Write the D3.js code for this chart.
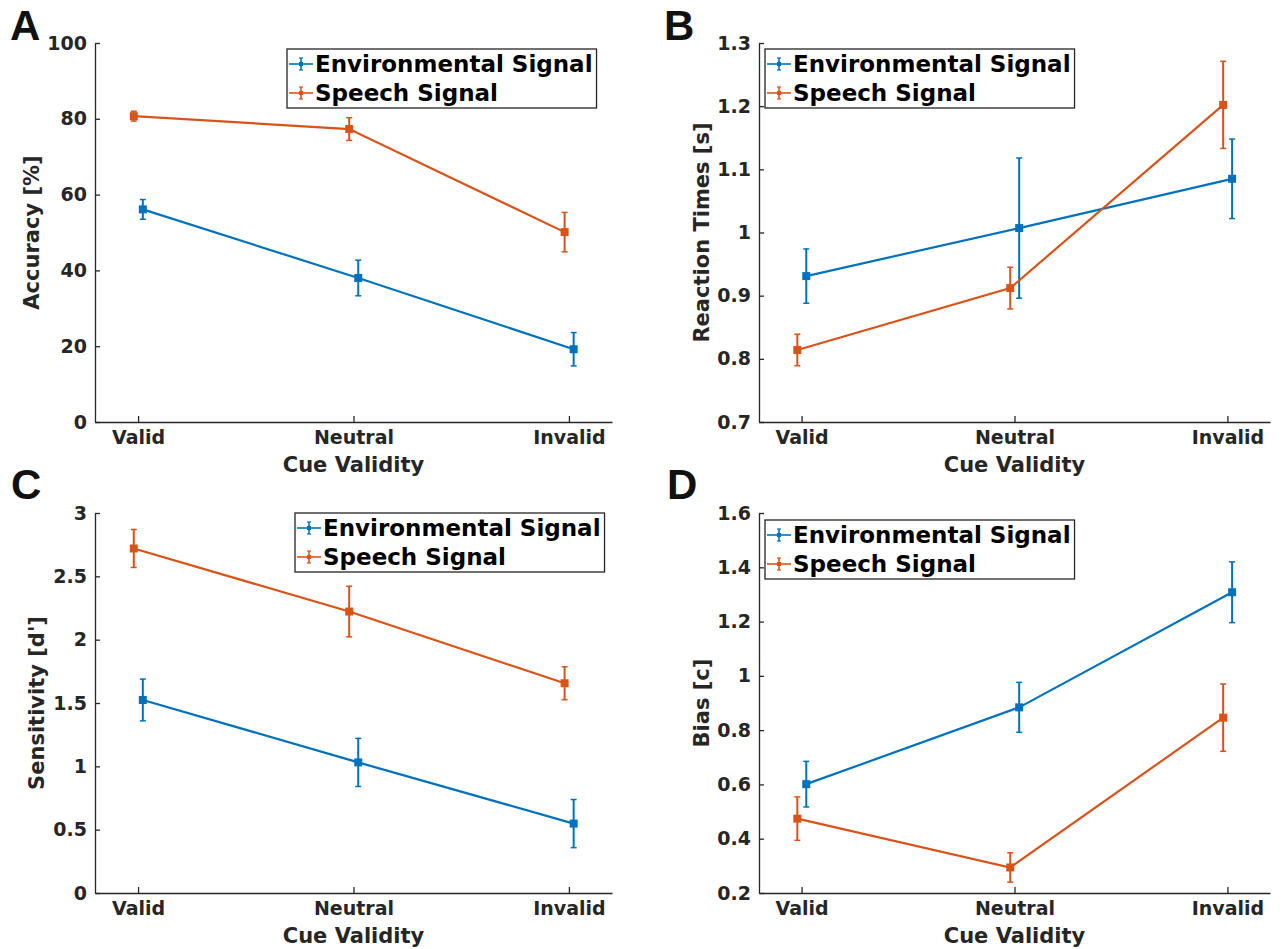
<!DOCTYPE html>
<html>
<head>
<meta charset="utf-8">
<script src="https://cdn.jsdelivr.net/npm/d3@7"></script>
<style>
  body { margin: 0; background: #fff; }
  svg text { font-family: "DejaVu Sans", sans-serif; font-weight: bold; }
</style>
</head>
<body>
<div id="chart"></div>
<script>
// Categories and series
const categories = ["Valid", "Neutral", "Invalid"];
const seriesNames = ["Environmental Signal", "Speech Signal"];
const seriesColors = ["#0072BD", "#D95319"];

// A - accuracy
const accEnv = [56.1, 38.0, 19.2];
const accEnvErr = [2.6, 4.7, 4.4];
const accSpeech = [80.7, 77.3, 50.1];
const accSpeechErr = [1.3, 3.0, 5.2];
const accTicks = [0, 20, 40, 60, 80, 100];
const accTickLabels = ["0", "20", "40", "60", "80", "100"];

// B - reaction times
const rtEnv = [0.931, 1.007, 1.085];
const rtEnvErr = [0.043, 0.111, 0.063];
const rtSpeech = [0.814, 0.912, 1.202];
const rtSpeechErr = [0.025, 0.033, 0.069];
const rtTicks = [0.7, 0.8, 0.9, 1.0, 1.1, 1.2, 1.3];
const rtTickLabels = ["0.7", "0.8", "0.9", "1", "1.1", "1.2", "1.3"];

// C - sensitivity
const dEnv = [1.524, 1.031, 0.548];
const dEnvErr = [0.165, 0.19, 0.19];
const dSpeech = [2.72, 2.222, 1.656];
const dSpeechErr = [0.15, 0.2, 0.13];
const dTicks = [0, 0.5, 1, 1.5, 2, 2.5, 3];
const dTickLabels = ["0", "0.5", "1", "1.5", "2", "2.5", "3"];

// D - bias
const cEnv = [0.601, 0.884, 1.308];
const cEnvErr = [0.084, 0.092, 0.112];
const cSpeech = [0.474, 0.294, 0.846];
const cSpeechErr = [0.08, 0.054, 0.124];
const cTicks = [0.2, 0.4, 0.6, 0.8, 1.0, 1.2, 1.4, 1.6];
const cTickLabels = ["0.2", "0.4", "0.6", "0.8", "1", "1.2", "1.4", "1.6"];

const width = 1288;
const height = 949;
const axisColor = "#262626";

const svg = d3.select("#chart")
    .append("svg")
    .attr("width", width)
    .attr("height", height);

// panel layouts
const panels = [
    { letter: "A", lx: 10, ly: 40, left: 95, right: 612, top: 43, bottom: 422,
      ylabel: "Accuracy [%]", ylabelX: 39, ticks: accTicks, tickLabels: accTickLabels,
      env: accEnv, envErr: accEnvErr, speech: accSpeech, speechErr: accSpeechErr,
      legend: { x: 287, y: 49 } },
    { letter: "B", lx: 664, ly: 40, left: 759, right: 1270, top: 43, bottom: 422,
      ylabel: "Reaction Times [s]", ylabelX: 709, ticks: rtTicks, tickLabels: rtTickLabels,
      env: rtEnv, envErr: rtEnvErr, speech: rtSpeech, speechErr: rtSpeechErr,
      legend: { x: 765, y: 49 } },
    { letter: "C", lx: 11, ly: 499, left: 95, right: 612, top: 513, bottom: 893,
      ylabel: "Sensitivity [d']", ylabelX: 44, ticks: dTicks, tickLabels: dTickLabels,
      env: dEnv, envErr: dEnvErr, speech: dSpeech, speechErr: dSpeechErr,
      legend: { x: 295, y: 513 } },
    { letter: "D", lx: 667, ly: 499, left: 759, right: 1270, top: 513, bottom: 893,
      ylabel: "Bias [c]", ylabelX: 709, ticks: cTicks, tickLabels: cTickLabels,
      env: cEnv, envErr: cEnvErr, speech: cSpeech, speechErr: cSpeechErr,
      legend: { x: 765, y: 520 } }
];

function drawPanel(p) {
    const g = svg.append("g");

    const xScale = d3.scaleLinear()
        .domain([0.8, 3.2])
        .range([p.left, p.right]);

    const yScale = d3.scaleLinear()
        .domain([p.ticks[0], p.ticks[p.ticks.length - 1]])
        .range([p.bottom, p.top]);

    // axes, MATLAB style ticks pointing inward
    const xAxis = d3.axisBottom(xScale)
        .tickValues([1, 2, 3])
        .tickFormat((d, i) => categories[i])
        .tickSizeInner(-6)
        .tickSizeOuter(0)
        .tickPadding(9);

    const yAxis = d3.axisLeft(yScale)
        .tickValues(p.ticks)
        .tickFormat((d, i) => p.tickLabels[i])
        .tickSizeInner(-5)
        .tickSizeOuter(0)
        .tickPadding(8);

    const gx = g.append("g")
        .attr("transform", `translate(0, ${p.bottom})`)
        .call(xAxis);

    const gy = g.append("g")
        .attr("transform", `translate(${p.left}, 0)`)
        .call(yAxis);

    [gx, gy].forEach(a => {
        a.selectAll("path, line").attr("stroke", axisColor).attr("stroke-width", 1.3);
        a.selectAll("text")
            .attr("fill", axisColor)
            .style("font-size", "19px")
            .style("font-family", "'DejaVu Sans', sans-serif")
            .style("font-weight", "bold");
    });

    // axis labels
    g.append("text")
        .attr("text-anchor", "middle")
        .attr("x", (p.left + p.right) / 2)
        .attr("y", p.bottom + 50)
        .attr("fill", axisColor)
        .style("font-size", "21px")
        .text("Cue Validity");

    g.append("text")
        .attr("text-anchor", "middle")
        .attr("transform", `translate(${p.ylabelX}, ${(p.top + p.bottom) / 2}) rotate(-90)`)
        .attr("fill", axisColor)
        .style("font-size", "21px")
        .text(p.ylabel);

    // panel letter
    g.append("text")
        .attr("x", p.lx)
        .attr("y", p.ly)
        .attr("fill", "#111")
        .style("font-family", "'Liberation Sans', Arial, sans-serif")
        .style("font-size", "42px")
        .text(p.letter);

    // series: env shifted right, speech shifted left
    const series = [
        { vals: p.env, errs: p.envErr, color: seriesColors[0], shift: 0.022 },
        { vals: p.speech, errs: p.speechErr, color: seriesColors[1], shift: -0.02 }
    ];

    const line = d3.line()
        .x(d => xScale(d.x))
        .y(d => yScale(d.y));

    series.forEach(s => {
        const pts = s.vals.map((v, i) => ({ x: i + 1 + s.shift, y: v, e: s.errs[i] }));

        g.append("path")
            .datum(pts)
            .attr("d", line)
            .attr("fill", "none")
            .attr("stroke", s.color)
            .attr("stroke-width", 2.2);

        const eb = g.append("g").selectAll("g")
            .data(pts)
            .enter()
            .append("g");

        eb.append("line")
            .attr("x1", d => xScale(d.x))
            .attr("x2", d => xScale(d.x))
            .attr("y1", d => yScale(d.y - d.e))
            .attr("y2", d => yScale(d.y + d.e))
            .attr("stroke", s.color)
            .attr("stroke-width", 2);

        [-1, 1].forEach(sign => {
            eb.append("line")
                .attr("x1", d => xScale(d.x) - 3)
                .attr("x2", d => xScale(d.x) + 3)
                .attr("y1", d => yScale(d.y + sign * d.e))
                .attr("y2", d => yScale(d.y + sign * d.e))
                .attr("stroke", s.color)
                .attr("stroke-width", 1.5);
        });

        eb.append("rect")
            .attr("x", d => xScale(d.x) - 4)
            .attr("y", d => yScale(d.y) - 4)
            .attr("width", 8)
            .attr("height", 8)
            .attr("fill", s.color);
    });

    // legend
    const lg = g.append("g").attr("transform", `translate(${p.legend.x}, ${p.legend.y})`);
    const box = lg.append("rect")
        .attr("fill", "white")
        .attr("stroke", axisColor)
        .attr("stroke-width", 1.3);

    let maxLen = 0;
    seriesNames.forEach((name, i) => {
        const cy = 15 + i * 29;
        const col = seriesColors[i];
        lg.append("line")
            .attr("x1", 2).attr("x2", 26)
            .attr("y1", cy).attr("y2", cy)
            .attr("stroke", col).attr("stroke-width", 1.6);
        lg.append("line")
            .attr("x1", 14).attr("x2", 14)
            .attr("y1", cy - 6).attr("y2", cy + 6)
            .attr("stroke", col).attr("stroke-width", 1.6);
        [-6, 6].forEach(o => {
            lg.append("line")
                .attr("x1", 12).attr("x2", 16)
                .attr("y1", cy + o).attr("y2", cy + o)
                .attr("stroke", col).attr("stroke-width", 1.2);
        });
        lg.append("rect")
            .attr("x", 12).attr("y", cy - 2)
            .attr("width", 4).attr("height", 4)
            .attr("fill", col);
        const t = lg.append("text")
            .attr("x", 28)
            .attr("y", cy + 8)
            .attr("fill", "#000")
            .style("font-size", "23px")
            .text(name);
        maxLen = Math.max(maxLen, t.node().getComputedTextLength());
    });

    box.attr("x", 0).attr("y", 0)
        .attr("width", 28 + maxLen + 4)
        .attr("height", 59);
}

panels.forEach(drawPanel);
</script>
</body>
</html>
